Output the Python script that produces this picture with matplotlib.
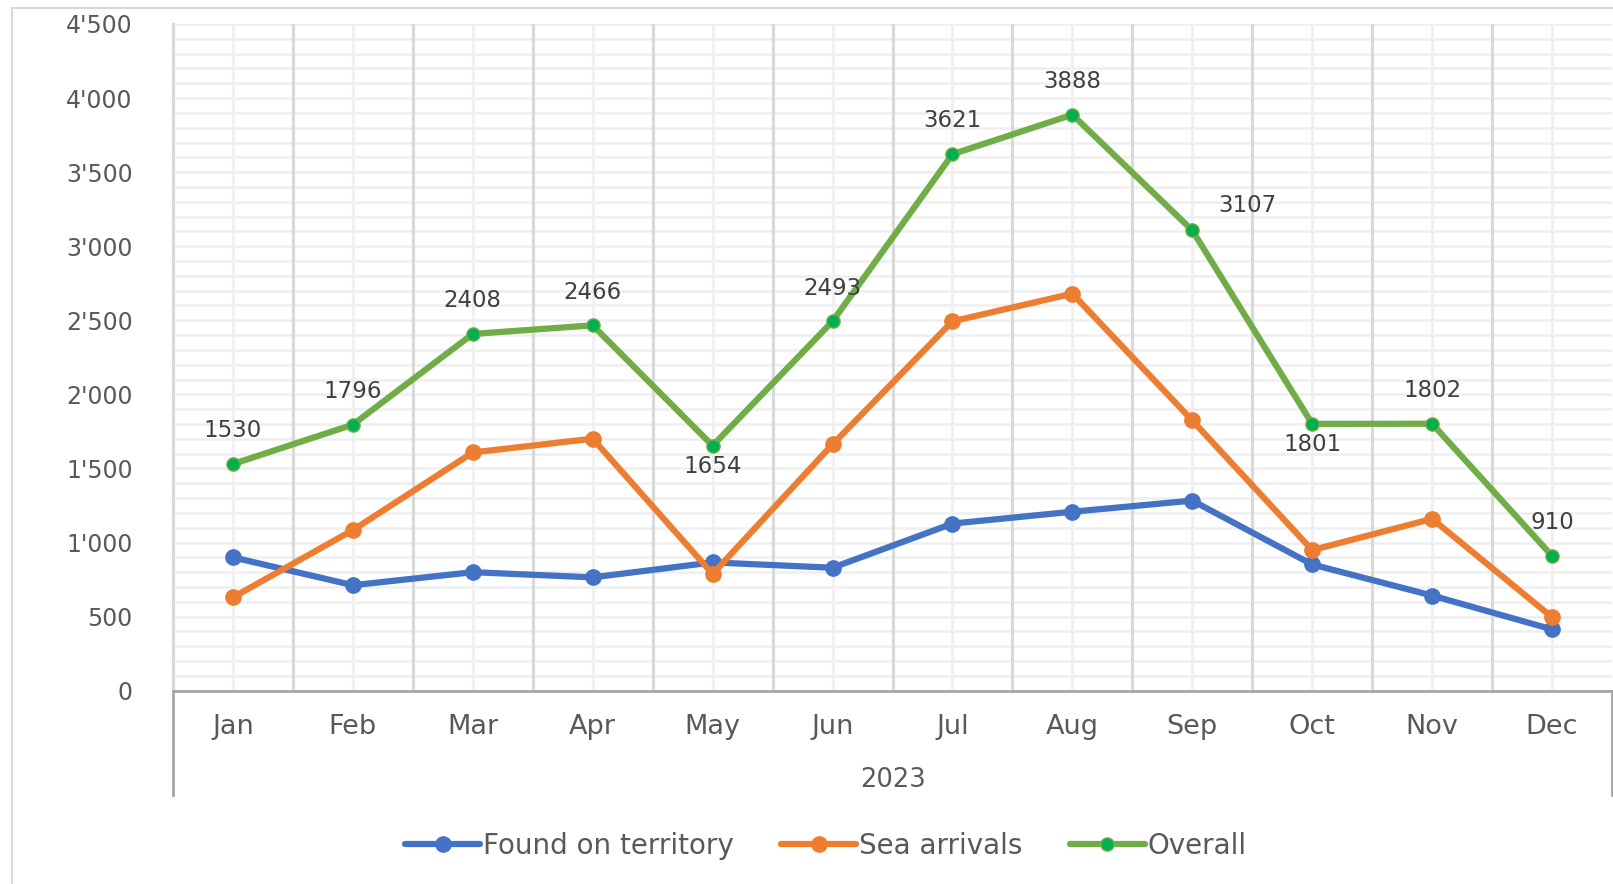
import numpy as np
import matplotlib
matplotlib.use("Agg")
import matplotlib.pyplot as plt
from matplotlib.lines import Line2D
from matplotlib.patches import Rectangle
from matplotlib.ticker import FuncFormatter

plt.rcParams["font.family"] = ["DejaVu Sans"]

months = ["Jan", "Feb", "Mar", "Apr", "May", "Jun",
          "Jul", "Aug", "Sep", "Oct", "Nov", "Dec"]
year = "2023"
found = [900, 712, 800, 765, 866, 830, 1128, 1208, 1283, 852, 642, 414]
sea = [630, 1084, 1608, 1701, 788, 1663, 2493, 2680, 1824, 949, 1160, 496]
overall = [1530, 1796, 2408, 2466, 1654, 2493, 3621, 3888, 3107, 1801, 1802, 910]

W, H = 1613, 884
fig = plt.figure(figsize=(W / 100, H / 100), dpi=100)
fig.patch.set_facecolor("white")

# outer chart border
fig.add_artist(Rectangle((12 / W, -0.1), 1.2, 1 - 8 / H + 0.1, transform=fig.transFigure,
                         fill=False, edgecolor="#D9D9D9", linewidth=1.5))

x0, x1 = 173, 1612
y_top, y_bot = 24, 690.7
ax = fig.add_axes([x0 / W, (H - y_bot) / H, (x1 - x0) / W, (y_bot - y_top) / H])

x = np.arange(len(months))

# gridlines
for v in np.arange(0, 4501, 100):
    ax.axhline(v, color="#EFEFEF", linewidth=1.8, zorder=0)
for c in x:
    ax.axvline(c, color="#F0F0F0", linewidth=2.2, zorder=0)
for c in x[1:] - 0.5:
    ax.axvline(c, color="#D9D9D9", linewidth=2.2, zorder=0)

ax.plot(x, found, color="#4472C4", linewidth=4.5, marker="o", markersize=11,
        label="Found on territory", zorder=3, solid_capstyle="round")
ax.plot(x, sea, color="#ED7D31", linewidth=4.5, marker="o", markersize=11,
        label="Sea arrivals", zorder=3, solid_capstyle="round")
ax.plot(x, overall, color="#70AD47", linewidth=4.5, marker="o", markersize=9.5,
        markerfacecolor="#00B050", markeredgecolor="#70AD47", markeredgewidth=1,
        label="Overall", zorder=4, solid_capstyle="round")

# data labels on the overall line
offsets = {4: (0, -15), 9: (0, -15), 8: (40, 18)}
for i, v in enumerate(overall):
    dx, dy = offsets.get(i, (0, 24))
    ax.annotate(str(v), (x[i], v), xytext=(dx, dy), textcoords="offset points",
                ha="center", va="center", fontsize=16.5, color="#404040", zorder=5)

ax.set_xlim(-0.5, len(months) - 0.5)
ax.set_ylim(0, 4500)
ax.set_yticks(np.arange(0, 4501, 500))
ax.yaxis.set_major_formatter(FuncFormatter(
    lambda v, _: f"{int(v):,}".replace(",", "'")))
ax.set_xticks(x)
ax.set_xticklabels(months)
ax.tick_params(axis="y", length=0, pad=29, labelsize=17, labelcolor="#595959")
ax.tick_params(axis="x", length=0, pad=16.5, labelsize=19.5, labelcolor="#595959")
ax.set_xlabel(year, fontsize=18.5, color="#595959", labelpad=20)

for s in ["top", "right"]:
    ax.spines[s].set_visible(False)
ax.spines["left"].set_color("#D9D9D9")
ax.spines["left"].set_linewidth(2.2)
ax.spines["bottom"].set_color("#A6A6A6")
ax.spines["bottom"].set_linewidth(2)

# multi-level category box
depth = (795 - y_bot) / (y_bot - y_top)
for xa in (0, 1):
    ax.add_line(Line2D([xa, xa], [0, -depth], transform=ax.transAxes,
                       color="#A6A6A6", linewidth=2, clip_on=False))

fig.legend(loc="center", bbox_to_anchor=(826 / W, 1 - 846 / H), ncol=3, frameon=False,
           prop={"family": ["DejaVu Sans Condensed", "DejaVu Sans"], "size": 20},
           labelcolor="#595959", handlelength=2.7, handletextpad=0.1, columnspacing=1.7)

fig.savefig("out.png", dpi=100)
